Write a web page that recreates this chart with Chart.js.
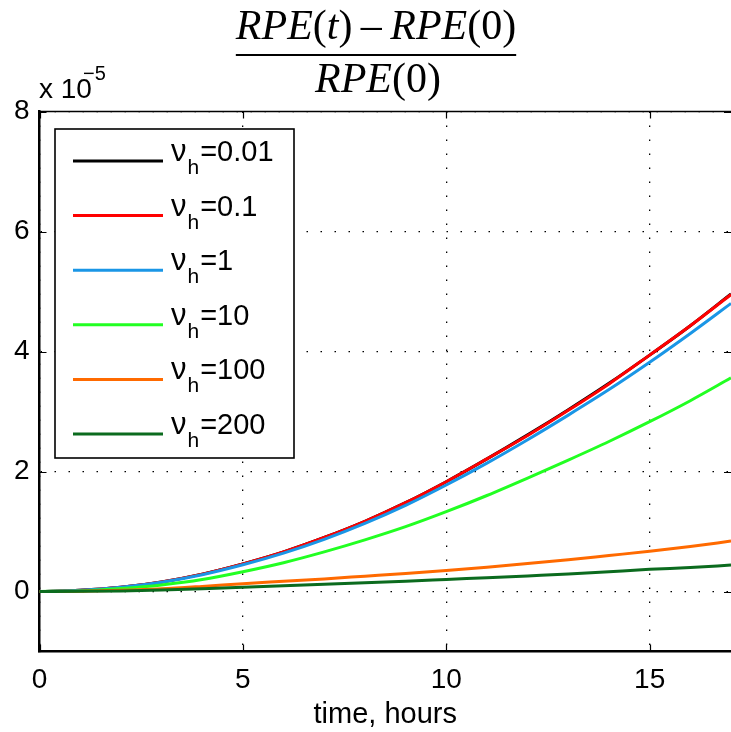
<!DOCTYPE html>
<html lang="en">
<head>
<meta charset="UTF-8">
<title>RPE</title>
<script src="https://cdn.jsdelivr.net/npm/chart.js"></script>
<style>
  html, body { margin: 0; padding: 0; background: #fff; }
  #wrap { width: 731px; height: 732px; }
</style>
</head>
<body>
<div id="wrap"><canvas id="myChart" width="731" height="732"></canvas></div>
<script>
// time axis (hours) and relative RPE change, in units of 1e-5
const hours = [0, 1, 2, 3, 4, 5, 6, 7, 8, 9, 10, 11, 12, 13, 14, 15, 16, 17];
const nu001 = [0, 0.02, 0.07, 0.16, 0.29, 0.46, 0.66, 0.90, 1.17, 1.48, 1.83, 2.21, 2.61, 3.03, 3.47, 3.94, 4.43, 4.96];
const nu01  = [0, 0.02, 0.07, 0.16, 0.29, 0.46, 0.66, 0.90, 1.17, 1.48, 1.83, 2.21, 2.60, 3.02, 3.46, 3.94, 4.43, 4.95];
const nu1   = [0, 0.02, 0.07, 0.155, 0.28, 0.445, 0.64, 0.87, 1.135, 1.435, 1.775, 2.14, 2.53, 2.94, 3.365, 3.82, 4.30, 4.80];
const nu10  = [0, 0.01, 0.05, 0.11, 0.20, 0.33, 0.48, 0.66, 0.86, 1.08, 1.33, 1.60, 1.89, 2.19, 2.50, 2.83, 3.18, 3.56];
const nu100 = [0, 0.005, 0.02, 0.045, 0.085, 0.13, 0.17, 0.21, 0.255, 0.30, 0.35, 0.405, 0.465, 0.53, 0.60, 0.67, 0.75, 0.84];
const nu200 = [0, 0.003, 0.01, 0.025, 0.045, 0.07, 0.095, 0.12, 0.145, 0.17, 0.20, 0.23, 0.26, 0.29, 0.33, 0.37, 0.40, 0.44];

const nuLabels = ['0.01', '0.1', '1', '10', '100', '200'];
const colors = ['#000000', '#ff0000', '#1a96e6', '#22ff22', '#ff6a00', '#0b6b1e'];
const xTicks = [0, 5, 10, 15];
const yTicks = [0, 2, 4, 6, 8];

const series = [nu001, nu01, nu1, nu10, nu100, nu200];
const SANS = '"Liberation Sans", Arial, Helvetica, sans-serif';
const SERIF = '"Liberation Serif", "Times New Roman", serif';

// fraction title, exponent note, inward ticks and the legend box
const decorations = {
  id: 'decorations',
  beforeDatasetsDraw(chart) {
    const c = chart.ctx, a = chart.chartArea;
    const xs = chart.scales.x, ys = chart.scales.y;
    c.save();
    // top border
    c.strokeStyle = '#000';
    c.lineWidth = 1.5;
    c.beginPath();
    c.moveTo(a.left, a.top);
    c.lineTo(a.right, a.top);
    c.stroke();
    // inward tick marks
    c.lineWidth = 1.2;
    c.beginPath();
    xTicks.forEach(v => {
      const px = Math.round(xs.getPixelForValue(v)) + 0.5;
      c.moveTo(px, a.bottom); c.lineTo(px, a.bottom - 7);
      c.moveTo(px, a.top); c.lineTo(px, a.top + 7);
    });
    yTicks.forEach(v => {
      const py = Math.round(ys.getPixelForValue(v)) + 0.5;
      c.moveTo(a.left, py); c.lineTo(a.left + 7, py);
      c.moveTo(a.right, py); c.lineTo(a.right - 7, py);
    });
    c.stroke();
    c.restore();
  },
  afterDraw(chart) {
    const c = chart.ctx;
    c.save();
    c.fillStyle = '#000';
    c.textBaseline = 'alphabetic';

    // title: (RPE(t) - RPE(0)) / RPE(0)
    const size = 42;
    const it = 'italic ' + size + 'px ' + SERIF;
    const up = size + 'px ' + SERIF;
    const numParts = [['RPE', it], ['(', up], ['t', it], [')', up], ['\u2009\u2013\u2009', up],
                      ['RPE', it], ['(', up], ['0', up], [')', up]];
    const denParts = [['RPE', it], ['(', up], ['0', up], [')', up]];
    const drawParts = (parts, cx, y) => {
      let w = 0;
      parts.forEach(p => { c.font = p[1]; w += c.measureText(p[0]).width; });
      let x = cx - w / 2;
      parts.forEach(p => { c.font = p[1]; c.fillText(p[0], x, y); x += c.measureText(p[0]).width; });
      return w;
    };
    const nw = drawParts(numParts, 376, 39);
    drawParts(denParts, 378, 92);
    c.fillRect(376 - nw / 2, 54, nw, 2);

    // exponent note
    c.font = '28px ' + SANS;
    c.textAlign = 'left';
    c.fillText('x 10', 39, 98);
    c.font = '20px ' + SANS;
    c.fillText('\u22125', 83, 80);

    // legend
    const bx = 55, by = 129, bw = 239, bh = 329;
    c.fillStyle = '#fff';
    c.fillRect(bx, by, bw, bh);
    c.strokeStyle = '#000';
    c.lineWidth = 1.6;
    c.strokeRect(bx, by, bw, bh);
    nuLabels.forEach((lab, i) => {
      const y = 161 + i * 54.6;
      c.strokeStyle = colors[i];
      c.lineWidth = 3;
      c.beginPath();
      c.moveTo(73, y); c.lineTo(163, y);
      c.stroke();
      c.fillStyle = '#000';
      c.font = '31px ' + SANS;
      c.fillText('\u03bd', 171, y);
      let x = 171 + c.measureText('\u03bd').width + 1;
      c.font = '21px ' + SANS;
      c.fillText('h', x, y + 13);
      x += c.measureText('h').width + 1;
      c.font = '29px ' + SANS;
      c.fillText('=' + lab, x, y);
    });
    c.restore();
  }
};

const ctx = document.getElementById('myChart');

const datasets = series.map((d, i) => ({
  label: 'νh=' + nuLabels[i],
  data: d,
  borderColor: colors[i],
  backgroundColor: colors[i],
  borderWidth: 3,
  pointRadius: 0,
  fill: false,
  cubicInterpolationMode: 'monotone',
  order: series.length - i   // later series drawn on top
}));

new Chart(ctx, {
  type: 'line',
  data: { labels: hours, datasets: datasets },
  options: {
    responsive: false,
    animation: false,
    events: [],
    layout: { padding: { left: 0, right: 0, top: 111.5, bottom: 0 } },
    plugins: { legend: { display: false }, tooltip: { enabled: false }, title: { display: false } },
    scales: {
      x: {
        type: 'linear',
        min: 0, max: 17,
        afterBuildTicks: s => { s.ticks = xTicks.map(v => ({ value: v })); },
        afterFit: s => { s.height = 80.5; },
        grid: { color: '#000', lineWidth: 1.3, drawTicks: false },
        border: { display: true, color: '#000', width: 2.5, dash: [1.5, 12.5] },
        ticks: { color: '#000', padding: 12, maxRotation: 0, font: { family: SANS, size: 28 } },
        title: { display: true, text: 'time, hours', color: '#000', padding: { top: 0, bottom: 0 },
                 font: { family: SANS, size: 29 } }
      },
      y: {
        type: 'linear',
        min: -1, max: 8,
        afterBuildTicks: s => { s.ticks = yTicks.map(v => ({ value: v })); },
        afterFit: s => { s.width = 39.5; },
        grid: { color: '#000', lineWidth: 1.3, drawTicks: false },
        border: { display: true, color: '#000', width: 2.5, dash: [1.5, 12.5] },
        ticks: { color: '#000', padding: 10, font: { family: SANS, size: 28 } }
      }
    }
  },
  plugins: [decorations]
});
</script>
</body>
</html>
